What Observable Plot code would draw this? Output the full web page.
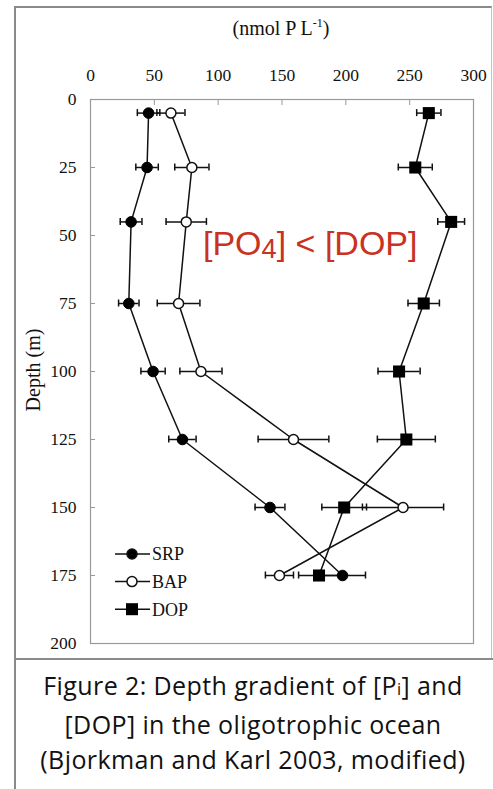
<!DOCTYPE html>
<html><head><meta charset="utf-8">
<script src="https://cdn.jsdelivr.net/npm/d3@7"></script>
<script src="https://cdn.jsdelivr.net/npm/@observablehq/plot@0.6"></script>
<style>
html,body{margin:0;padding:0;background:#fff;}
#wrap{position:relative;width:493px;height:789px;overflow:hidden;}
#chart{position:absolute;left:0;top:0;}
.ov{position:absolute;white-space:nowrap;}
</style></head>
<body><div id="wrap"><div id="chart"></div></div>
<script>
const depths = [5, 25, 45, 75, 100, 125, 150, 175];
const srp = [45.5, 44.3, 31.8, 30, 49, 72, 140.6, 197.4];
const srpErr = [8.8, 8.8, 8.5, 8, 9.5, 10.7, 11.7, 18];
const bap = [63, 79.4, 75, 69, 86.5, 159, 244.8, 148];
const bapErr = [11, 13.4, 15.8, 16.7, 16.5, 27.7, 31.8, 11];
const dop = [265, 254.4, 282.5, 261, 241.7, 247.4, 198.7, 179];
const dopErr = [9.5, 13.3, 10.5, 12.3, 16.5, 22.7, 17.5, 16];
const xTicks = [0, 50, 100, 150, 200, 250, 300];
const yTicks = [0, 25, 50, 75, 100, 125, 150, 175, 200];
const seriesNames = ["SRP", "BAP", "DOP"];

const series = {SRP: [srp, srpErr], BAP: [bap, bapErr], DOP: [dop, dopErr]};
const rows = seriesNames.flatMap(s => depths.map((d, i) => ({series: s, depth: d, value: series[s][0][i], err: series[s][1][i]})));
const of = s => rows.filter(r => r.series === s);

const plot = Plot.plot({
  width: 493, height: 660,
  marginLeft: 90, marginTop: 99, marginRight: 20, marginBottom: 17,
  style: {fontFamily: "'Liberation Serif', serif", fontSize: "17.5px", color: "#111", background: "transparent"},
  x: {domain: [0, 300]},
  y: {domain: [0, 200], reverse: true},
  marks: [
    Plot.frame({stroke: "#999", strokeWidth: 1.2}),
    Plot.axisX(xTicks, {anchor: "top", tickSize: 0, tickPadding: 19, label: null}),
    Plot.axisX(xTicks, {anchor: "top", tickSize: 5, text: null, dy: 5, stroke: "#999", label: null}),
    Plot.axisY(yTicks, {anchor: "left", tickSize: 0, tickPadding: 14, label: null}),
    Plot.axisY(yTicks, {anchor: "left", tickSize: 5, text: null, dx: 5, stroke: "#999", label: null}),
    Plot.line(rows, {x: "value", y: "depth", z: "series", stroke: "#111", strokeWidth: 1.5}),
    Plot.ruleY(rows, {y: "depth", x1: d => d.value - d.err, x2: d => d.value + d.err, stroke: "#111", strokeWidth: 1.5}),
    Plot.ruleX(rows, {x: d => d.value - d.err, y1: "depth", y2: "depth", insetTop: -3.5, insetBottom: -3.5, stroke: "#111", strokeWidth: 1.5}),
    Plot.ruleX(rows, {x: d => d.value + d.err, y1: "depth", y2: "depth", insetTop: -3.5, insetBottom: -3.5, stroke: "#111", strokeWidth: 1.5}),
    Plot.dot(of("SRP"), {x: "value", y: "depth", r: 5.3, fill: "#000", stroke: "#000", strokeWidth: 1}),
    Plot.dot(of("BAP"), {x: "value", y: "depth", r: 5, fill: "#fff", stroke: "#111", strokeWidth: 1.5}),
    Plot.dot(of("DOP"), {x: "value", y: "depth", r: 6.8, symbol: "square", fill: "#000", stroke: "none"})
  ]
});
document.getElementById("chart").appendChild(plot);

const wrap = document.getElementById("wrap");
function ov(html, css) {
  const d = document.createElement("div");
  d.className = "ov";
  d.innerHTML = html;
  Object.assign(d.style, css);
  wrap.appendChild(d);
  return d;
}
// outer frame
ov("", {left: "14px", top: "6px", width: "478px", height: "654px", borderTop: "2px solid #8a8a8a", borderLeft: "2px solid #8a8a8a", borderRight: "1px solid #c4c4c4", boxSizing: "border-box"});
ov("", {left: "14px", top: "658px", width: "2px", height: "140px", background: "#8a8a8a"});
ov("", {left: "14px", top: "658px", width: "479px", height: "2px", background: "#8a8a8a"});
// x axis title
ov("(nmol P L<sup style='font-size:12px;vertical-align:8px'>-1</sup>)", {left: "181px", width: "200px", textAlign: "center", top: "16px", fontFamily: "'Liberation Serif', serif", fontSize: "20px", color: "#111"});
// y axis title
ov("Depth (m)", {left: "33px", top: "370px", transform: "translate(-50%,-50%) rotate(-90deg)", fontFamily: "'Liberation Serif', serif", fontSize: "20px", color: "#111"});
// annotation
ov("[PO<span style='font-size:0.8em;vertical-align:-0.12em'>4</span>] &lt; [DOP]", {left: "203px", top: "224px", fontFamily: "'Liberation Sans', Arial, sans-serif", fontSize: "34px", color: "#c8321e"});
// caption
ov("Figure 2: Depth gradient of [P<span style='font-size:0.65em'>i</span>] and<br>[DOP] in the oligotrophic ocean<br>(Bjorkman and Karl 2003, modified)",
  {left: "15px", width: "476px", top: "668px", textAlign: "center", fontFamily: "'Open Sans', Lato, sans-serif", fontSize: "25px", letterSpacing: "0.4px", lineHeight: "35px", color: "#111"});

// legend
const leg = d3.create("svg").attr("width", 110).attr("height", 80);
seriesNames.forEach((s, i) => {
  const g = leg.append("g").attr("transform", `translate(0,${12 + i * 27.6})`);
  g.append("line").attr("x1", 3).attr("x2", 38).attr("stroke", "#111").attr("stroke-width", 1.5);
  if (s === "DOP") g.append("rect").attr("x", 20 - 6).attr("y", -6).attr("width", 12).attr("height", 12).attr("fill", "#000");
  else g.append("circle").attr("cx", 20).attr("r", 5).attr("fill", s === "SRP" ? "#000" : "#fff").attr("stroke", "#111").attr("stroke-width", 1.5);
  g.append("text").attr("x", 40).attr("dy", "0.35em").attr("font-family", "'Liberation Serif', serif").attr("font-size", 18).attr("fill", "#111").text(s);
});
const legDiv = ov("", {left: "112px", top: "542px"});
legDiv.appendChild(leg.node());
</script></body></html>
